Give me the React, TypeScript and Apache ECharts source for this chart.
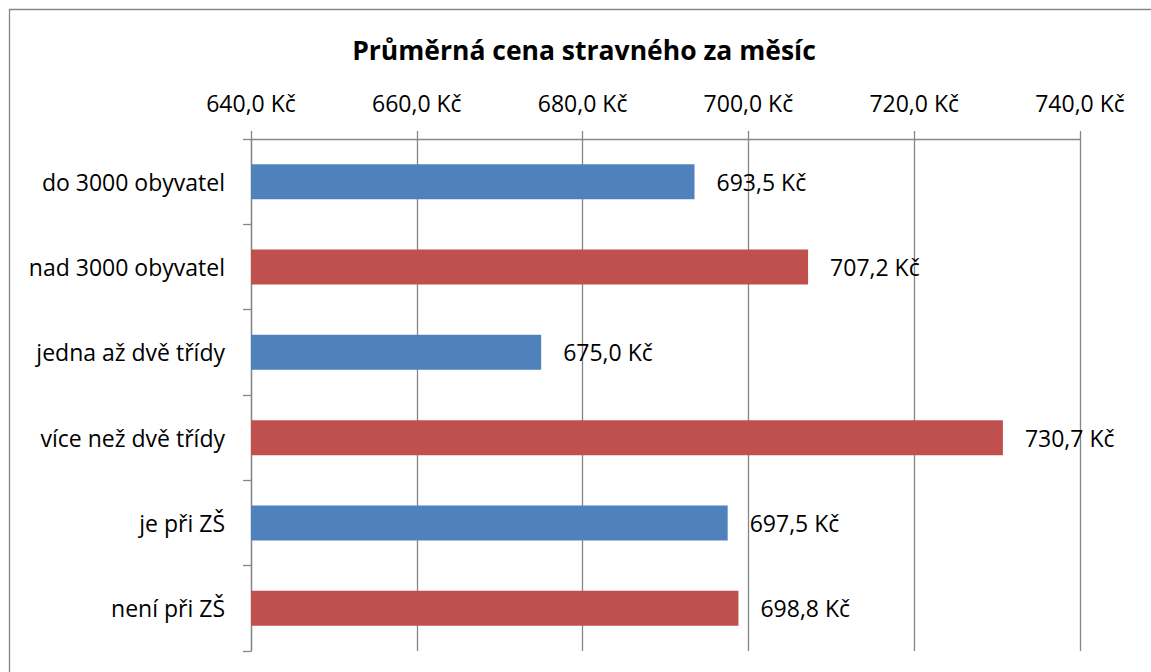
import React, { useEffect, useRef } from "react";
import * as echarts from "echarts";

const categories = [
  "do 3000 obyvatel",
  "nad 3000 obyvatel",
  "jedna až dvě třídy",
  "více než dvě třídy",
  "je při ZŠ",
  "není při ZŠ",
];
const values = [693.5, 707.2, 675.0, 730.7, 697.5, 698.8];
const barColors = ["#4F81BD", "#C0504D", "#4F81BD", "#C0504D", "#4F81BD", "#C0504D"];
const axisMin = 640;
const axisMax = 740;
const axisStep = 20;
const title = "Průměrná cena stravného za měsíc";

const fmt = (v: number) => v.toFixed(1).replace(".", ",") + " Kč";

export default function App() {
  const ref = useRef<HTMLDivElement>(null);
  useEffect(() => {
    document.body.style.margin = "0";
    const chart = echarts.init(ref.current!, null, { renderer: "svg" });
    const font = "'Open Sans', sans-serif";
    chart.setOption({
      animation: false,
      backgroundColor: "#ffffff",
      textStyle: { fontFamily: font },
      graphic: [
        {
          type: "rect",
          shape: { x: 9.5, y: 9.5, width: 1300, height: 800 },
          style: { fill: "none", stroke: "#868686", lineWidth: 1.3 },
          silent: true,
        },
        {
          type: "text",
          x: 584,
          y: 50,
          style: {
            text: title,
            fontFamily: font,
            fontSize: 26.5,
            fontWeight: "bold",
            fill: "#000",
            align: "center",
            verticalAlign: "middle",
          },
        },
      ],
      grid: { left: 251, right: 71, top: 139, bottom: 21, containLabel: false },
      xAxis: {
        type: "value",
        position: "top",
        min: axisMin,
        max: axisMax,
        interval: axisStep,
        axisLine: { show: true, lineStyle: { color: "#868686", width: 1.3 } },
        axisTick: { show: true, length: 8, lineStyle: { color: "#868686", width: 1.3 } },
        splitLine: { show: true, lineStyle: { color: "#868686", width: 1.3 } },
        axisLabel: {
          formatter: (v: number) => fmt(v),
          fontSize: 23,
          color: "#000",
          margin: 25,
          fontFamily: font,
        },
      },
      yAxis: {
        type: "category",
        data: categories,
        inverse: true,
        axisLine: { show: true, lineStyle: { color: "#868686", width: 1.3 } },
        axisTick: { show: true, length: 8, lineStyle: { color: "#868686", width: 1.3 } },
        axisLabel: { fontSize: 23, color: "#000", margin: 26, fontFamily: font },
      },
      series: [
        {
          type: "bar",
          barWidth: 35,
          data: values.map((v, i) => ({ value: v, itemStyle: { color: barColors[i] } })),
          label: {
            show: true,
            position: "right",
            distance: 22,
            fontSize: 23,
            color: "#000",
            fontFamily: font,
            formatter: (p: any) => fmt(p.value),
          },
        },
      ],
    });
    return () => chart.dispose();
  }, []);
  return <div ref={ref} style={{ width: 1151, height: 672 }} />;
}
